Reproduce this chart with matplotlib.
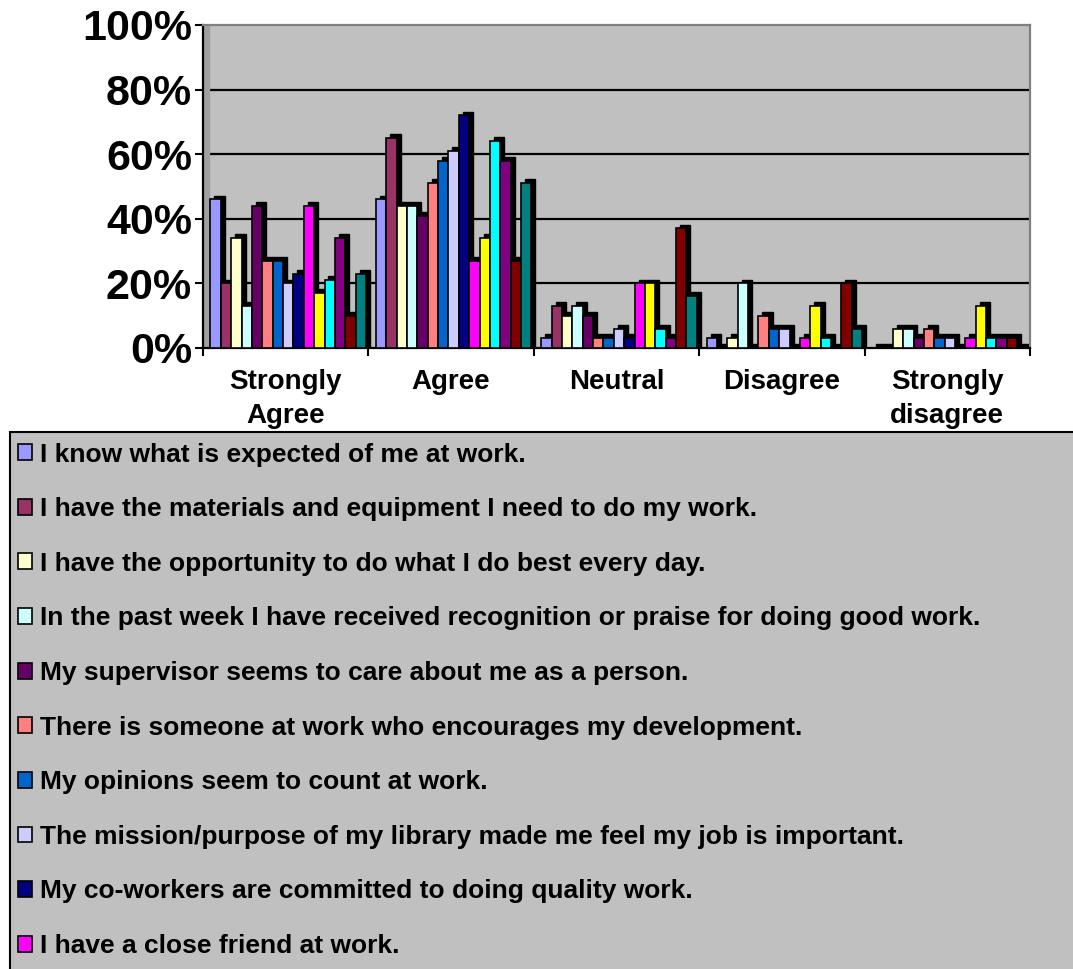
import numpy as np
import matplotlib
matplotlib.use("Agg")
import matplotlib.pyplot as plt
from matplotlib.patches import Rectangle

plt.rcParams['font.family'] = ['Liberation Sans', 'DejaVu Sans']
plt.rcParams['font.weight'] = 'bold'

# answer categories on the x axis
categories = ['Strongly\nAgree', 'Agree', 'Neutral', 'Disagree', 'Strongly\ndisagree']

# survey statements (legend); only the first ten fit in the picture
statements = [
    'I know what is expected of me at work.',
    'I have the materials and equipment I need to do my work.',
    'I have the opportunity to do what I do best every day.',
    'In the past week I have received recognition or praise for doing good work.',
    'My supervisor seems to care about me as a person.',
    'There is someone at work who encourages my development.',
    'My opinions seem to count at work.',
    'The mission/purpose of my library made me feel my job is important.',
    'My co-workers are committed to doing quality work.',
    'I have a close friend at work.',
]

# percent per statement for each category
q01 = [46, 46, 3, 3, 0]
q02 = [20, 65, 13, 0, 0]
q03 = [34, 44, 10, 3, 6]
q04 = [13, 44, 13, 20, 6]
q05 = [44, 41, 10, 0, 3]
q06 = [27, 51, 3, 10, 6]
q07 = [27, 58, 3, 6, 3]
q08 = [20, 61, 6, 6, 3]
q09 = [23, 72, 3, 0, 0]
q10 = [44, 27, 20, 3, 3]
q11 = [17, 34, 20, 13, 13]
q12 = [21, 64, 6, 3, 3]
q13 = [34, 58, 3, 0, 3]
q14 = [10, 27, 37, 20, 3]
q15 = [23, 51, 16, 6, 0]
series = [q01, q02, q03, q04, q05, q06, q07, q08, q09, q10, q11, q12, q13, q14, q15]

colors = ['#9999FF', '#993366', '#FFFFCC', '#CCFFFF', '#660066', '#FF8080',
          '#0066CC', '#CCCCFF', '#000080', '#FF00FF', '#FFFF00', '#00FFFF',
          '#800080', '#800000', '#008080']

fig = plt.figure(figsize=(10.73, 9.69), dpi=100)
ax = fig.add_axes([203/1073, 1 - 348/969, 827/1073, 323/969])
ax.set_facecolor('#C0C0C0')

x = np.arange(len(categories))
bw = 0.0627
start = -0.5 + 0.045
dx, dy = 0.024, 1.2   # fake 3d depth

handles = []
for i, vals in enumerate(series):
    left = x + start + i * bw
    ax.bar(left + dx, np.array(vals) + dy, width=bw, align='edge',
           color='black', edgecolor='black', linewidth=1.0, zorder=2)
    b = ax.bar(left, vals, width=bw, align='edge', color=colors[i],
               edgecolor='black', linewidth=1.2, zorder=3)
    handles.append(b)

ax.set_xlim(-0.5, 4.5)
ax.set_ylim(0, 100)

# grid on the back wall and the side wall
for v in [20, 40, 60, 80]:
    ax.axhline(v, xmin=0.008, color='black', lw=1.6, zorder=1)
ax.add_patch(Rectangle((-0.5, 0), 0.035, 100, color='#A0A0A0', zorder=1.5))

ax.set_yticks([0, 20, 40, 60, 80, 100])
ax.set_yticklabels(['0%', '20%', '40%', '60%', '80%', '100%'], fontsize=31, fontweight='bold')
ax.set_xticks(x)
ax.set_xticklabels(categories, fontsize=20, fontweight='bold', linespacing=1.4)
ax.set_xticks(np.arange(-0.5, 5, 1), minor=True)
ax.tick_params(axis='x', which='major', length=0, pad=15)
ax.tick_params(axis='x', which='minor', length=6, width=1.5, direction='out')
ax.tick_params(axis='y', length=6, width=1.5, direction='out', pad=2)

for s in ['left', 'bottom']:
    ax.spines[s].set_color('black')
    ax.spines[s].set_linewidth(1.6)
for s in ['top', 'right']:
    ax.spines[s].set_color('#808080')
    ax.spines[s].set_linewidth(1.6)

# legend box runs past the right and bottom edges of the picture
fig.patches.append(Rectangle((10/1073, -0.1), 1.1, 1.1 - 432/969,
                             transform=fig.transFigure, facecolor='#C0C0C0',
                             edgecolor='black', linewidth=1.5, zorder=0))

leg = fig.legend(handles[:len(statements)], statements,
                 loc='upper left', bbox_to_anchor=(7/1073, 1 - 432/969),
                 ncol=1, fontsize=19, frameon=False,
                 handlelength=0.55, handleheight=0.55, handletextpad=0.3,
                 labelspacing=1.16, borderpad=0.4, borderaxespad=0)
for t in leg.get_texts():
    t.set_fontweight('bold')

fig.savefig('out.png', dpi=100, facecolor='white')
